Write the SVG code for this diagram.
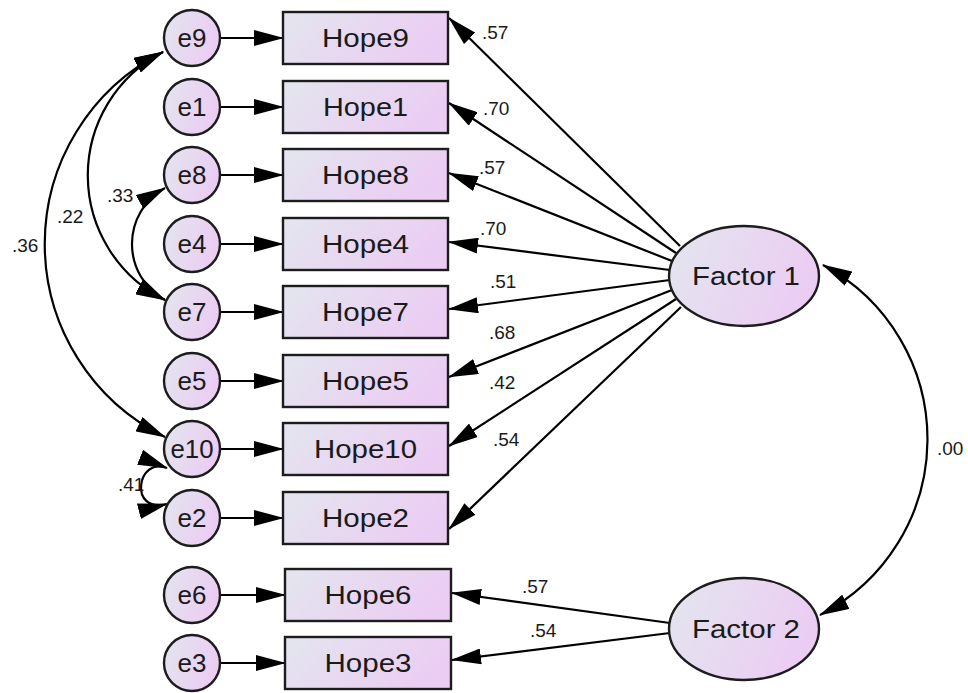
<svg xmlns="http://www.w3.org/2000/svg" width="968" height="693" viewBox="0 0 968 693">
<defs>
<linearGradient id="fill" x1="0" y1="0" x2="1" y2="0.3">
<stop offset="0" stop-color="#e3e6ee"/>
<stop offset="1" stop-color="#ebcdf3"/>
</linearGradient>
<marker id="ah" markerUnits="userSpaceOnUse" markerWidth="30" markerHeight="16" refX="29" refY="8" orient="auto-start-reverse" viewBox="0 0 30 16">
<path d="M0,0 L30,8 L0,16 z" fill="#000"/>
</marker>
</defs>
<style>
.n{fill:url(#fill);stroke:#1c1c1c;stroke-width:2.4}
.t{font-family:"Liberation Sans",Arial,sans-serif;font-size:26px;fill:#1a1a1a;text-anchor:middle}
.l{font-family:"Liberation Sans",Arial,sans-serif;font-size:19px;fill:#1a1a1a}
.c path{fill:none;stroke:#000;stroke-width:2.2;marker-end:url(#ah)}
.c path.b{marker-start:url(#ah)}
</style>
<rect width="968" height="693" fill="#fff"/>

<g class="c" id="connectors">
<path d="M220,38 L283,38"/>
<path d="M220,107 L283,107"/>
<path d="M220,175 L283,175"/>
<path d="M220,244 L283,244"/>
<path d="M220,312 L283,312"/>
<path d="M220,381 L283,381"/>
<path d="M220,449 L283,449"/>
<path d="M220,518 L283,518"/>
<path d="M220,595 L285,595"/>
<path d="M220,663 L285,663"/>
<path d="M680,246 L449,18"/>
<path d="M676,253 L449,103"/>
<path d="M672,261 L449,173"/>
<path d="M670,270 L449,242"/>
<path d="M670,280 L449,309"/>
<path d="M672,290 L449,377"/>
<path d="M676,299 L449,446"/>
<path d="M681,307 L449,529"/>
<path d="M670,623 L452,593"/>
<path d="M670,633 L452,660"/>
<path class="b" d="M823,265 A197.5,197.5 0 0 1 820,615"/>
<path class="b" d="M163,52 A139,139 0 0 0 165,300"/>
<path class="b" d="M163,52 A215,215 0 0 0 165,437"/>
<path class="b" d="M165,188 A64,64 0 0 0 165,300"/>
<path class="b" d="M167,468 C137,456 128,514 167,504"/>
</g>

<g id="labels">
<text class="l" x="482" y="39">.57</text>
<text class="l" x="483" y="115">.70</text>
<text class="l" x="479" y="174">.57</text>
<text class="l" x="480" y="235">.70</text>
<text class="l" x="490" y="288">.51</text>
<text class="l" x="489" y="339">.68</text>
<text class="l" x="489" y="389">.42</text>
<text class="l" x="493" y="446">.54</text>
<text class="l" x="522" y="593">.57</text>
<text class="l" x="530" y="637">.54</text>
<text class="l" x="937" y="455">.00</text>
<text class="l" x="57" y="223">.22</text>
<text class="l" x="12" y="252">.36</text>
<text class="l" x="107" y="202">.33</text>
<text class="l" x="118" y="491">.41</text>
</g>

<g id="e9"><circle class="n" cx="192" cy="38" r="28"/><text class="t" x="192" y="47">e9</text></g>
<g id="e1"><circle class="n" cx="192" cy="107" r="28"/><text class="t" x="192" y="116">e1</text></g>
<g id="e8"><circle class="n" cx="192" cy="175" r="28"/><text class="t" x="192" y="184">e8</text></g>
<g id="e4"><circle class="n" cx="192" cy="244" r="28"/><text class="t" x="192" y="253">e4</text></g>
<g id="e7"><circle class="n" cx="192" cy="312" r="28"/><text class="t" x="192" y="321">e7</text></g>
<g id="e5"><circle class="n" cx="192" cy="381" r="28"/><text class="t" x="192" y="390">e5</text></g>
<g id="e10"><circle class="n" cx="192" cy="449" r="28"/><text class="t" x="192" y="458" textLength="43" lengthAdjust="spacingAndGlyphs">e10</text></g>
<g id="e2"><circle class="n" cx="192" cy="518" r="28"/><text class="t" x="192" y="527">e2</text></g>
<g id="e6"><circle class="n" cx="192" cy="595" r="28"/><text class="t" x="192" y="604">e6</text></g>
<g id="e3"><circle class="n" cx="192" cy="663" r="28"/><text class="t" x="192" y="672">e3</text></g>

<g id="Hope9"><rect class="n" x="283" y="12" width="165" height="52"/><text class="t" x="365.5" y="47" textLength="87" lengthAdjust="spacingAndGlyphs">Hope9</text></g>
<g id="Hope1"><rect class="n" x="283" y="81" width="165" height="52"/><text class="t" x="365.5" y="116" textLength="85" lengthAdjust="spacingAndGlyphs">Hope1</text></g>
<g id="Hope8"><rect class="n" x="283" y="149" width="165" height="52"/><text class="t" x="365.5" y="184" textLength="87" lengthAdjust="spacingAndGlyphs">Hope8</text></g>
<g id="Hope4"><rect class="n" x="283" y="218" width="165" height="52"/><text class="t" x="365.5" y="253" textLength="87" lengthAdjust="spacingAndGlyphs">Hope4</text></g>
<g id="Hope7"><rect class="n" x="283" y="286" width="165" height="52"/><text class="t" x="365.5" y="321" textLength="87" lengthAdjust="spacingAndGlyphs">Hope7</text></g>
<g id="Hope5"><rect class="n" x="283" y="355" width="165" height="52"/><text class="t" x="365.5" y="390" textLength="87" lengthAdjust="spacingAndGlyphs">Hope5</text></g>
<g id="Hope10"><rect class="n" x="283" y="423" width="165" height="52"/><text class="t" x="365.5" y="458" textLength="103" lengthAdjust="spacingAndGlyphs">Hope10</text></g>
<g id="Hope2"><rect class="n" x="283" y="492" width="165" height="52"/><text class="t" x="365.5" y="527" textLength="87" lengthAdjust="spacingAndGlyphs">Hope2</text></g>
<g id="Hope6"><rect class="n" x="285" y="569" width="166" height="52"/><text class="t" x="368" y="604" textLength="87" lengthAdjust="spacingAndGlyphs">Hope6</text></g>
<g id="Hope3"><rect class="n" x="285" y="637" width="166" height="52"/><text class="t" x="368" y="672" textLength="87" lengthAdjust="spacingAndGlyphs">Hope3</text></g>

<g id="Factor1"><ellipse class="n" cx="744" cy="276" rx="75" ry="50"/><text class="t" x="746" y="285" textLength="108" lengthAdjust="spacingAndGlyphs">Factor 1</text></g>
<g id="Factor2"><ellipse class="n" cx="744" cy="629" rx="75" ry="51"/><text class="t" x="746" y="638" textLength="108" lengthAdjust="spacingAndGlyphs">Factor 2</text></g>
</svg>
